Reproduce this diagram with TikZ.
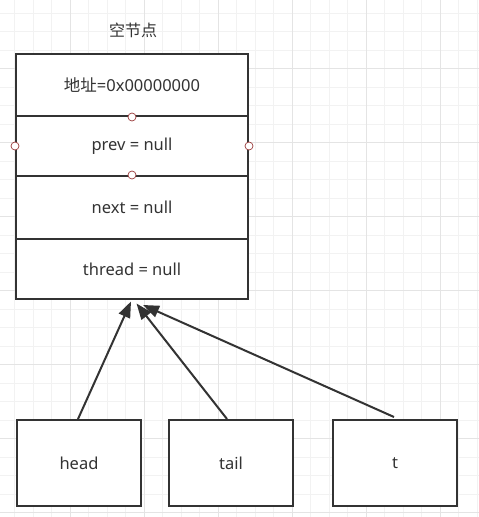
\documentclass[tikz,border=0pt]{standalone}
\usepackage{fontspec}
\setmainfont{Noto Sans}
\newfontfamily\cjk{Noto Sans CJK SC}
\usetikzlibrary{arrows.meta,calc}
\definecolor{ink}{HTML}{333333}
\definecolor{gminor}{HTML}{F2F2F2}
\definecolor{gmajor}{HTML}{E4E4E4}
\definecolor{port}{HTML}{9A3B3B}
\tikzset{
  txt/.style={text=ink, font=\fontsize{16.5}{19}\selectfont},
  cell/.style={txt, draw=ink, line width=2pt, fill=white, minimum width=232pt, inner sep=0pt, anchor=north},
  ref/.style={txt, draw=ink, line width=2pt, fill=white, minimum width=124pt, minimum height=86pt, inner sep=0pt, anchor=north west},
  portc/.style={circle, draw=port, fill=white, line width=0.7pt, minimum size=8pt, inner sep=0pt},
  link/.style={draw=ink, line width=2pt, -{Triangle[length=16pt,width=12pt]}}
}
\begin{document}
\begin{tikzpicture}[x=1pt,y=-1pt]
\useasboundingbox (0,0) rectangle (479,517);
\fill[white] (0,0) rectangle (479,517);
% grid
\foreach \i in {0,...,26} {
  \draw[gminor, line width=0.8pt] ({-4+18.5*\i},0) -- ({-4+18.5*\i},517);
}
\foreach \j in {0,...,28} {
  \draw[gminor, line width=0.8pt] (0,{-5.5+18.5*\j}) -- (479,{-5.5+18.5*\j});
}
\foreach \i in {0,...,7} {
  \draw[gmajor, line width=1pt] ({-4+74*\i},0) -- ({-4+74*\i},517);
}
\foreach \j in {0,...,7} {
  \draw[gmajor, line width=1pt] (0,{-6+74*\j}) -- (479,{-6+74*\j});
}
% title
\node[txt, font=\fontsize{16}{19}\selectfont] (title) at (133,30) {\cjk 空节点};
% main node rows
\node[cell, minimum height=62pt] (r1) at (132,53) {{\cjk 地址}=0x00000000};
\node[cell, minimum height=60pt] (r2) at (132,115) {prev = null};
\node[cell, minimum height=63pt] (r3) at (132,175) {next = null};
\node[cell, minimum height=60pt] (r4) at (132,238) {thread = null};
% ports
\node[portc] (p1) at (r1.south) {};
\node[portc] (p2) at (r2.west) {};
\node[portc] (p3) at (r2.east) {};
\node[portc] (p4) at (r3.north) {};
% reference boxes
\node[ref] (head) at (16,419) {head};
\node[ref] (tail) at (168,419) {tail};
\node[ref] (t) at (332,419) {t};
% arrow targets
\coordinate (e1) at ($(r4.south)+(-1,1.5)$);
\coordinate (e2) at ($(r4.south)+(4.5,3.5)$);
\coordinate (e3) at ($(r4.south)+(11,5)$);
\draw[link] ($(head.north)+(-1,0)$) -- (e1);
\draw[link] ($(tail.north)+(-4,0)$) -- (e2);
\draw[link] ($(t.north)+(-1,-2)$) -- (e3);
\end{tikzpicture}
\end{document}
